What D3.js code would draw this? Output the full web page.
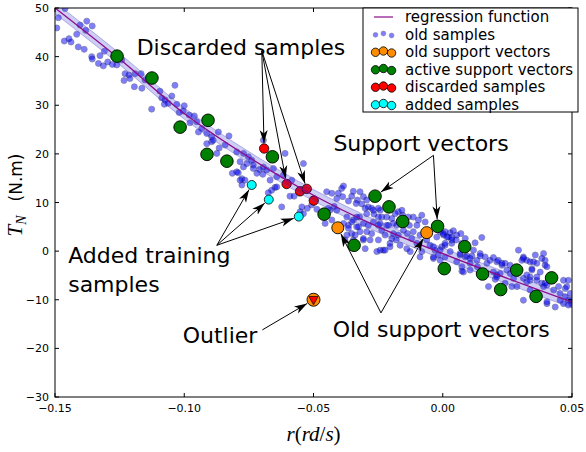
<!DOCTYPE html>
<html><head><meta charset="utf-8">
<script src="https://cdn.jsdelivr.net/npm/d3@7"></script>
<style>body{margin:0;background:#fff}svg{display:block}</style>
</head><body><svg id="c" width="586" height="452"></svg>
<script>
// ---------- data ----------
const xTicks=[-0.15,-0.10,-0.05,0.00,0.05];
const xTickLabels=["\u22120.15","\u22120.10","\u22120.05","0.00","0.05"];
const yTicks=[-30,-20,-10,0,10,20,30,40,50];
const yTickLabels=["\u221230","\u221220","\u221210","0","10","20","30","40","50"];
const regression=[[-0.15,50.0],[-0.125,39.5],[-0.10,28.3],[-0.075,19.3],[-0.05,11.5],[-0.025,5.0],[0,-0.5],[0.025,-5.6],[0.05,-10.5]];
const bandHalf=1.15;
const oldSamples=[
[-0.1487,48.0],[-0.1461,49.9],[-0.1493,45.9],[-0.1464,43.2],[-0.1446,43.7],[-0.1438,43.0],[-0.1416,44.6],[-0.1403,46.5],[-0.1377,47.3],[-0.1381,45.4],[-0.1356,46.3],[-0.1410,42.0],[-0.1387,41.5],[-0.1358,40.0],[-0.1356,39.5],[-0.1326,40.2],[-0.1309,41.1],[-0.1332,38.6],[-0.1313,38.1],[-0.1296,38.9],[-0.1278,38.4],[-0.1261,38.3],[-0.1242,39.3],[-0.1229,36.5],[-0.1214,36.2],[-0.1233,35.1],[-0.1210,35.5],[-0.1190,36.5],[-0.1193,33.8],[-0.1167,36.5],[-0.1164,33.5],[-0.1152,35.2],[-0.1126,29.2],[-0.1094,32.9],[-0.1087,31.5],[-0.1074,31.1],[-0.1077,30.2],[-0.1062,30.4],[-0.1048,31.9],[-0.1036,34.1],[-0.1029,30.2],[-0.1004,28.8],[-0.1000,29.9],[-0.1020,28.5],[-0.0981,28.0],[-0.0978,26.4],[-0.0961,27.8],[-0.0952,26.6],[-0.0945,24.5],[-0.0932,25.2],[-0.0913,24.2],[-0.0894,23.5],[-0.0868,24.5],[-0.0865,21.2],[-0.0913,22.1],[-0.0842,21.8],[-0.0827,23.7],[-0.0814,16.0],[-0.0894,22.5],
[-0.0797,16.3],[-0.0784,18.4],[-0.0758,18.0],[-0.0739,18.7],[-0.0733,17.7],[-0.0719,16.0],[-0.0709,16.8],[-0.0777,14.9],[-0.0765,14.6],[-0.0696,15.8],[-0.0668,14.6],[-0.0649,13.1],[-0.0642,15.3],[-0.0617,15.6],[-0.0610,20.1],[-0.0584,14.6],[-0.0539,18.0],[-0.0662,12.5],[-0.0623,9.1],[-0.0591,11.3],[-0.0575,11.3],[-0.0545,9.1],[-0.0524,8.8],[-0.0507,9.5],[-0.0539,7.7],[-0.0487,8.6],[-0.0449,12.2],[-0.0429,11.9],[-0.0410,10.8],[-0.0420,9.2],[-0.0436,8.4],[-0.0391,12.9],[-0.0404,11.9],[-0.0387,11.2],[-0.0365,10.3],[-0.0352,11.3],[-0.0320,12.2],[-0.0330,10.5],[-0.0307,11.2],[-0.0300,8.8],[-0.0288,9.1],[-0.0275,8.8],[-0.0294,7.7],[-0.0266,7.6],[-0.0249,7.0],[-0.0242,8.4],[-0.0217,7.0],[-0.0197,6.7],[-0.0191,5.7],[-0.0210,5.3],[-0.0242,5.7],[-0.0268,6.0],[-0.0307,5.7],[-0.0322,7.0],[-0.0346,6.4],[-0.0365,5.3],[-0.0352,3.6],[-0.0339,3.3],[-0.0371,3.3],[-0.0326,5.0],[-0.0294,4.0],[-0.0275,3.6],[-0.0307,2.3],[-0.0249,2.3],[-0.0230,0.2],[-0.0255,-0.1],[-0.0204,1.6],[-0.0191,3.6],[-0.0178,5.3],[-0.0172,8.1],
[-0.0335,9.8],[-0.0313,9.7],[-0.0294,10.5],[-0.0268,10.8],[-0.0268,8.4],[-0.0249,8.8],[-0.0236,7.0],[-0.0184,7.7],[-0.0155,7.4],[-0.0133,7.0],[-0.0114,7.0],[-0.0094,6.4],[-0.0081,7.4],[-0.0100,5.3],[-0.0129,5.3],[-0.0152,4.3],[-0.0137,3.6],[-0.0120,2.6],[-0.0114,4.0],[-0.0088,3.3],[-0.0172,3.3],[-0.0180,2.3],[-0.0165,1.2],[-0.0204,0.9],[-0.0197,2.6],[-0.0223,3.3],[-0.0236,4.3],[-0.0281,2.3],[-0.0242,0.2],[-0.0223,0.2],[-0.0300,0.5],[-0.0307,2.6],[-0.0320,4.0],[-0.0333,5.0],[-0.0352,6.0],[-0.0371,7.0],[-0.0333,7.0],[-0.0384,5.7],[-0.0365,4.7],[-0.0378,2.3],[-0.0346,2.3],[-0.0443,8.8],[-0.0410,8.4],[-0.0449,7.7],[-0.0429,6.4],[-0.0455,5.7],[-0.0288,5.3],[-0.0249,5.3],[-0.0217,5.3],[-0.0062,2.3],[-0.0049,1.2],[-0.0030,0.2],[-0.0017,-0.8],[-0.0036,-1.5],[-0.0004,0.9],[0.0009,-1.2],[0.0022,2.9],[0.0003,3.3],[-0.0010,4.0],[-0.0081,-0.1],[-0.0100,1.6],[-0.0088,-1.2],[-0.0139,0.5],[-0.0126,-0.1],
[-0.0158,8.4],[-0.0068,6.0],[0.0009,4.0],[0.0029,3.8],[0.0041,4.2],[0.0054,3.3],[0.0035,2.8],[0.0009,1.2],[0.0035,1.6],[0.0052,2.3],[-0.0023,2.9],[-0.0036,0.9],[-0.0010,0.2],[-0.0036,-1.2],[-0.0010,-1.9],[0.0029,-0.1],[0.0067,-0.8],[0.0054,-2.2],[0.0074,-4.1],[0.0093,-1.0],[0.0113,-1.0],[0.0119,0.2],[0.0106,-2.5],[0.0132,-1.9],[0.0134,-3.2],[0.0151,2.8],[0.0145,-0.5],[0.0164,-1.2],[0.0171,-2.5],[0.0183,-1.9],[0.0196,-1.3],[0.0209,-2.2],[0.0229,-2.9],[0.0241,-2.5],[0.0248,-3.9],[0.0196,-4.3],[0.0177,-7.3],[0.0209,-4.9],[0.0222,-4.6],[0.0261,-4.6],[0.0274,-5.6],[0.0293,0.2],[0.0312,-1.2],[0.0325,-1.9],[0.0338,-2.2],[0.0306,-1.9],[0.0345,-3.6],[0.0364,-2.5],[0.0383,-1.5],[0.0390,-0.5],[0.0396,-2.9],[0.0403,-3.2],[0.0338,-5.3],[0.0325,-6.3],[0.0312,-5.6],[0.0364,-6.0],[0.0383,-6.6],[0.0390,-7.3],[0.0403,-7.0],[0.0338,-8.0],[0.0448,-7.3],[0.0467,-6.0],[0.0480,-7.3],[0.0454,-8.7],[0.0474,-9.4],[0.0486,-10.1],[0.0499,-10.8],[0.0467,-10.8],[0.0403,-10.8],[0.0312,-10.1],[0.0241,-6.6],[0.0267,-7.3],[0.0093,0.9],[0.0074,1.6],[0.0125,1.7],[0.0087,2.6],[0.0070,3.6],
[0.0002,3.6],[0.0016,2.9],[0.0035,2.3],[0.0009,1.6],[0.0067,-0.5],[0.0087,-1.2],[0.0106,-1.5],[0.0145,-1.0],[0.0215,-1.9],[0.0229,-2.5],[0.0261,-2.9],[0.0209,-5.3],[0.0203,-5.8],[0.0287,-7.3],[0.0325,-4.9],[0.0338,-6.0],[0.0312,-1.5],[0.0351,-2.2],[0.0358,-0.8],[0.0396,-1.9],[0.0377,-4.3],[0.0345,-3.9],[0.0364,-5.3],[0.0396,-6.6],[0.0429,-8.0],[0.0486,-6.0],[0.0474,-7.7],[0.0493,-8.7],[0.0499,-10.1],[0.0454,-10.1],[0.0435,-11.5],[0.0403,-10.4],[0.0486,-11.1],[0.0080,-4.3],[0.0074,-3.2],[0.0106,-3.9],
[-0.0797,20.4],[-0.0771,20.1],[-0.0752,19.4],[-0.0771,17.3],[-0.0733,17.0],[-0.0694,17.3],[-0.0681,16.7],[-0.0655,17.0],[-0.0874,20.1],[-0.0888,22.8],[-0.0791,16.1],[-0.0784,14.6],[-0.0777,13.6],[-0.0642,13.2],[-0.0675,12.0],[-0.0552,8.1],[-0.0694,22.8],[-0.0384,13.4],[-0.0346,12.3]
];
const activeSV=[[-0.126,40.1],[-0.1125,35.6],[-0.1016,25.5],[-0.0908,26.9],[-0.0912,19.9],[-0.0835,18.5],[-0.0659,19.4],[-0.0459,7.6],[-0.0343,1.2],[-0.0262,11.3],[-0.0208,9.1],[-0.0155,6.1],[-0.0020,5.1],[0.0085,0.9],[0.0006,-3.6],[0.0154,-4.7],[0.0224,-7.9],[0.0286,-3.9],[0.0361,-9.3],[0.0421,-5.5]];
const oldSV=[[-0.0406,4.8],[-0.0062,3.8]];
const discarded=[[-0.0691,21.1],[-0.0604,13.8],[-0.0552,12.3],[-0.0526,12.8],[-0.0499,10.4]];
const added=[[-0.0739,13.6],[-0.0673,10.6],[-0.0557,7.1]];
const outlier=[[-0.05,-10.0]];
const legendLabels=["regression function","old samples","old support vectors","active support vectors","discarded samples","added samples"];
const annotations=[
 {lines:["Discarded samples"], at:[-0.1184,40.3], tail:[-0.0700,41.2], targets:[discarded[0],discarded[1],discarded[3]], r:4.7},
 {lines:["Support vectors"], at:[-0.0423,20.6], tail:[-0.0036,19.7], targets:[activeSV[9],activeSV[12]], r:6.3},
 {lines:["Added training","samples"], at:[-0.1449,-2.5], tail:[-0.0874,1.2], targets:added, r:4.5},
 {lines:["Outlier"], at:[-0.1006,-18.8], tail:[-0.0698,-16.2], targets:outlier, r:6.5},
 {lines:["Old support vectors"], at:[-0.0426,-17.6], tail:[-0.0239,-12.7], targets:oldSV, r:6.0}
];

// ---------- drawing ----------
const svg=d3.select("#c");
const L=55,R=572,T=8,B=397;
const x=d3.scaleLinear().domain([-0.15,0.05]).range([L,R]);
const y=d3.scaleLinear().domain([-30,50]).range([B,T]);
const defs=svg.append("defs");
defs.append("clipPath").attr("id","clip").append("rect").attr("x",L).attr("y",T).attr("width",R-L).attr("height",B-T);
defs.append("marker").attr("id","ah").attr("viewBox","0 0 14 10").attr("markerUnits","userSpaceOnUse")
 .attr("markerWidth",14).attr("markerHeight",10).attr("refX",13).attr("refY",5).attr("orient","auto")
 .append("path").attr("d","M0,1 L13,5 L0,9 L3.5,5 Z").attr("fill","#000");

const plot=svg.append("g").attr("clip-path","url(#clip)");
// old samples
plot.append("g").selectAll("circle").data(oldSamples).join("circle")
 .attr("cx",d=>x(d[0])).attr("cy",d=>y(d[1])).attr("r",3.0)
 .attr("fill","#0000ff").attr("stroke","#000060").attr("stroke-width",0.8).attr("opacity",0.5);
// discarded
plot.append("g").selectAll("circle").data(discarded).join("circle")
 .attr("cx",d=>x(d[0])).attr("cy",d=>y(d[1])).attr("r",4.7)
 .attr("fill","#ff0000").attr("stroke","#000").attr("stroke-width",0.8);
// added
plot.append("g").selectAll("circle").data(added).join("circle")
 .attr("cx",d=>x(d[0])).attr("cy",d=>y(d[1])).attr("r",4.5)
 .attr("fill","#00ffff").attr("stroke","#000").attr("stroke-width",0.8);
// band
const area=d3.area().x(d=>x(d[0])).y0(d=>y(d[1]-bandHalf)).y1(d=>y(d[1]+bandHalf)).curve(d3.curveMonotoneX);
plot.append("path").datum(regression).attr("d",area).attr("fill","#2020d0").attr("opacity",0.22);
const lineHi=d3.line().x(d=>x(d[0])).y(d=>y(d[1]+bandHalf)).curve(d3.curveMonotoneX);
const lineLo=d3.line().x(d=>x(d[0])).y(d=>y(d[1]-bandHalf)).curve(d3.curveMonotoneX);
plot.append("path").datum(regression).attr("d",lineHi).attr("fill","none").attr("stroke","#5050c8").attr("stroke-opacity",0.5).attr("stroke-width",0.8);
plot.append("path").datum(regression).attr("d",lineLo).attr("fill","none").attr("stroke","#5050c8").attr("stroke-opacity",0.5).attr("stroke-width",0.8);
const line=d3.line().x(d=>x(d[0])).y(d=>y(d[1])).curve(d3.curveMonotoneX);
plot.append("path").datum(regression).attr("d",line).attr("fill","none").attr("stroke","#8b0a8b").attr("stroke-width",1.3);
// active SV
plot.append("g").selectAll("circle").data(activeSV).join("circle")
 .attr("cx",d=>x(d[0])).attr("cy",d=>y(d[1])).attr("r",6.3)
 .attr("fill","#008000").attr("stroke","#000").attr("stroke-width",0.9);
// old SV
plot.append("g").selectAll("circle").data(oldSV).join("circle")
 .attr("cx",d=>x(d[0])).attr("cy",d=>y(d[1])).attr("r",6.0)
 .attr("fill","#ff8c00").attr("stroke","#000").attr("stroke-width",0.9);
// outlier
const og=plot.append("g").selectAll("g").data(outlier).join("g").attr("transform",d=>`translate(${x(d[0])},${y(d[1])})`);
og.append("circle").attr("r",6.5).attr("fill","#ff8c00").attr("stroke","#000").attr("stroke-width",0.9);
og.append("path").attr("d","M-4.6,-3.2 L4.6,-3.2 L0,5 Z").attr("fill","#ff0000").attr("stroke","#000").attr("stroke-width",0.7);

// axes frame + ticks
const ax=svg.append("g");
ax.append("rect").attr("x",L).attr("y",T).attr("width",R-L).attr("height",B-T).attr("fill","none").attr("stroke","#000").attr("stroke-width",1);
const tl=4;
xTicks.forEach((t,i)=>{
 const px=x(t);
 ax.append("line").attr("x1",px).attr("x2",px).attr("y1",B).attr("y2",B-tl).attr("stroke","#000");
 ax.append("line").attr("x1",px).attr("x2",px).attr("y1",T).attr("y2",T+tl).attr("stroke","#000");
 ax.append("text").attr("x",px).attr("y",B+15).attr("text-anchor","middle").attr("font-family","DejaVu Sans").attr("font-size",11).text(xTickLabels[i]);
});
yTicks.forEach((t,i)=>{
 const py=y(t);
 ax.append("line").attr("x1",L).attr("x2",L+tl).attr("y1",py).attr("y2",py).attr("stroke","#000");
 ax.append("line").attr("x1",R).attr("x2",R-tl).attr("y1",py).attr("y2",py).attr("stroke","#000");
 ax.append("text").attr("x",L-6).attr("y",py+4).attr("text-anchor","end").attr("font-family","DejaVu Sans").attr("font-size",11).text(yTickLabels[i]);
});
// axis labels
const xl=svg.append("text").attr("x",(L+R)/2).attr("y",441).attr("text-anchor","middle").attr("font-family","Liberation Serif").attr("font-size",21);
xl.append("tspan").attr("font-style","italic").text("r");
xl.append("tspan").text("(");
xl.append("tspan").attr("font-style","italic").text("rd");
xl.append("tspan").text("/");
xl.append("tspan").attr("font-style","italic").text("s");
xl.append("tspan").text(")");
const yl=svg.append("text").attr("transform","translate(22,195) rotate(-90)").attr("text-anchor","middle");
yl.append("tspan").attr("font-family","Liberation Serif").attr("font-style","italic").attr("font-size",21).text("T");
yl.append("tspan").attr("font-family","Liberation Serif").attr("font-style","italic").attr("font-size",14).attr("dy",4).text("N");
yl.append("tspan").attr("font-family","DejaVu Sans").attr("font-size",17).attr("dy",-4).attr("dx",14).text("(N.m)");

// annotations
const an=svg.append("g");
annotations.forEach(a=>{
 const tx=x(a.tail[0]), ty=y(a.tail[1]);
 a.targets.forEach(p=>{
  const px=x(p[0]), py=y(p[1]);
  const dx=px-tx, dy=py-ty, len=Math.hypot(dx,dy);
  const ex=px-dx/len*(a.r+0.8), ey=py-dy/len*(a.r+0.8);
  an.append("line").attr("x1",tx).attr("y1",ty).attr("x2",ex).attr("y2",ey).attr("stroke","#000").attr("stroke-width",1).attr("marker-end","url(#ah)");
 });
 a.lines.forEach((s,i)=>{
  an.append("text").attr("x",x(a.at[0])).attr("y",y(a.at[1])+i*29).attr("font-family","DejaVu Sans").attr("font-size",22).attr("fill","#000").text(s);
 });
});

// legend
const lg=svg.append("g");
lg.append("rect").attr("x",363).attr("y",8).attr("width",215).attr("height",104).attr("fill","#fff").attr("stroke","#000").attr("stroke-width",1);
const ly=[17,34.5,52,69.5,87,104.5];
const mx=[375.5,383.4,391.6], moff=[1.3,0,2.0];
legendLabels.forEach((s,i)=>{
 lg.append("text").attr("x",405).attr("y",ly[i]+5).attr("font-family","DejaVu Sans").attr("font-size",15).text(s);
});
lg.append("line").attr("x1",374).attr("x2",393).attr("y1",ly[0]).attr("y2",ly[0]).attr("stroke","#8b0a8b").attr("stroke-width",1.2);
const lstyles=[
 {fill:"#0000ff",stroke:"#000060",r:2.4,op:0.5,sw:0.6},
 {fill:"#ff8c00",stroke:"#000",r:4.2,op:1,sw:0.8},
 {fill:"#008000",stroke:"#000",r:4.2,op:1,sw:0.8},
 {fill:"#ff0000",stroke:"#000",r:4.2,op:1,sw:0.8},
 {fill:"#00ffff",stroke:"#000",r:4.2,op:1,sw:0.8}
];
lstyles.forEach((st,k)=>{
 mx.forEach((xx,j)=>{
  lg.append("circle").attr("cx",xx).attr("cy",ly[k+1]+moff[j]-1).attr("r",st.r).attr("fill",st.fill).attr("stroke",st.stroke).attr("stroke-width",st.sw).attr("opacity",st.op);
 });
});
</script></body></html>
